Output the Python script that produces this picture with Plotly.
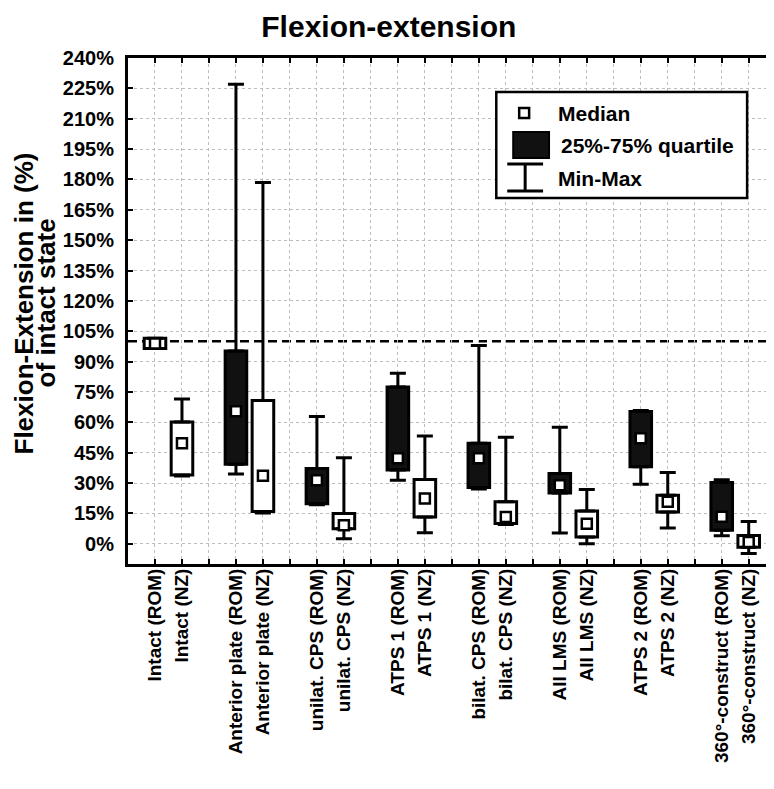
import plotly.graph_objects as go

# ---------------- data ----------------
CATEGORIES = [
    "Intact (ROM)", "Intact (NZ)",
    "Anterior plate (ROM)", "Anterior plate (NZ)",
    "unilat. CPS (ROM)", "unilat. CPS (NZ)",
    "ATPS 1 (ROM)", "ATPS 1 (NZ)",
    "bilat. CPS (ROM)", "bilat. CPS (NZ)",
    "All LMS (ROM)", "All LMS (NZ)",
    "ATPS 2 (ROM)", "ATPS 2 (NZ)",
    "360°-construct (ROM)", "360°-construct (NZ)",
]
MINIMUM = [96.5, 33.5, 34.5, 15.2, 19.3, 2.5, 31.4, 5.5, 27.0, 9.5, 5.3, 0.0, 29.4, 7.8, 3.9, -4.8]
Q1      = [96.5, 34.0, 39.3, 16.0, 19.8, 7.4, 36.4, 13.2, 27.8, 10.0, 25.1, 3.3, 38.0, 15.7, 6.7, -1.7]
MEDIAN  = [99.0, 49.6, 65.5, 33.6, 31.4, 9.1, 42.2, 22.3, 42.2, 13.2, 28.9, 9.9, 52.1, 20.7, 13.4, 0.9]
Q3      = [101.5, 60.2, 95.2, 70.8, 37.2, 14.9, 77.5, 31.8, 49.6, 20.7, 34.7, 16.2, 65.3, 24.0, 30.3, 4.1]
MAXIMUM = [101.5, 71.5, 227.0, 178.5, 62.9, 42.5, 84.2, 53.2, 97.9, 52.6, 57.6, 26.8, 65.8, 35.2, 31.6, 11.0]
FILLED  = [False, False, True, False, True, False, True, False,
           True, False, True, False, True, False, True, False]
Y_TICKS = list(range(0, 241, 15))
Y_TICK_LABELS = [f"{v}%" for v in Y_TICKS]
REFERENCE_LEVEL = 100

# ---------------- layout helpers ----------------
FONT = "Liberation Sans"
positions = [3 * (i // 2) + (i % 2) for i in range(len(CATEGORIES))]
all_ticks = list(range(0, positions[-1] + 1))
ticktext = [""] * len(all_ticks)
for p, c in zip(positions, CATEGORIES):
    ticktext[p] = c

fig = go.Figure()

# boxes (25%-75%)
fig.add_trace(go.Bar(
    x=positions,
    y=[b - a for a, b in zip(Q1, Q3)],
    base=Q1,
    width=0.8,
    marker=dict(color=["#111111" if f else "white" for f in FILLED],
                line=dict(color="black", width=3)),
    hoverinfo="skip",
))

# upper whiskers
fig.add_trace(go.Scatter(
    x=positions, y=Q3, mode="markers",
    marker=dict(size=1, color="rgba(0,0,0,0)"),
    error_y=dict(type="data", symmetric=False,
                 array=[mx - q for mx, q in zip(MAXIMUM, Q3)],
                 arrayminus=[0] * len(Q3),
                 color="black", thickness=3, width=8),
    hoverinfo="skip",
))
# lower whiskers
fig.add_trace(go.Scatter(
    x=positions, y=Q1, mode="markers",
    marker=dict(size=1, color="rgba(0,0,0,0)"),
    error_y=dict(type="data", symmetric=False,
                 array=[0] * len(Q1),
                 arrayminus=[q - mn for q, mn in zip(Q1, MINIMUM)],
                 color="black", thickness=3, width=8),
    hoverinfo="skip",
))
# medians
fig.add_trace(go.Scatter(
    x=positions, y=MEDIAN, mode="markers",
    marker=dict(symbol="square", size=10, color="white",
                line=dict(color="black", width=2.5)),
))

# reference dashed line at 100 %
fig.add_shape(type="line", xref="paper", x0=0, x1=1, yref="y",
              y0=REFERENCE_LEVEL, y1=REFERENCE_LEVEL, layer="between",
              line=dict(color="black", width=2.5, dash="9px,5px"))

axis_common = dict(
    showgrid=True, gridcolor="#bdbdbd", gridwidth=1, griddash="dot",
    showline=True, linecolor="black", linewidth=3, mirror="ticks",
    ticks="inside", ticklen=5, tickwidth=2, tickcolor="black",
    zeroline=False,
)

fig.update_layout(
    width=774, height=789,
    margin=dict(l=120, r=6, t=50, b=233),
    plot_bgcolor="white", paper_bgcolor="white",
    showlegend=False,
    title=dict(text="Flexion-extension", x=0.492, xref="container", xanchor="center",
               y=1 - 18 / 789, yref="container", yanchor="middle",
               font=dict(family=FONT, size=30, color="black", weight="bold")),
    xaxis=dict(range=[-1.0, 22.9], tickmode="array", tickvals=all_ticks,
               ticktext=ticktext, tickangle=-90, ticklabelstandoff=-6,
               tickfont=dict(family=FONT, size=19, color="black", weight="bold"),
               **axis_common),
    yaxis=dict(range=[-10, 240], tickmode="array", tickvals=Y_TICKS,
               ticktext=Y_TICK_LABELS, ticklabelstandoff=7,
               tickfont=dict(family=FONT, size=20, color="black", weight="bold"),
               **axis_common),
)

# y-axis title (two lines)
PW, PH, L, B = 648, 506, 120, 556
def px(xp):
    return (xp - L) / PW
def py(yp):
    return (B - yp) / PH

for text, xc in [("Flexion-Extension in (%)", 16), ("of intact state", 38)]:
    fig.add_annotation(text=text, xref="paper", yref="paper", x=px(xc), y=py(295),
                       textangle=-90, showarrow=False, xanchor="center", yanchor="middle",
                       font=dict(family=FONT, size=26, color="black", weight="bold"))

# legend (drawn manually)
fig.add_shape(type="rect", xref="paper", yref="paper", layer="above",
              x0=px(490), x1=px(742), y0=py(190), y1=py(84),
              fillcolor="white", line=dict(color="black", width=2.5))
fig.add_shape(type="rect", xref="paper", yref="paper", layer="above",
              x0=px(513), x1=px(523), y0=py(110), y1=py(100),
              fillcolor="white", line=dict(color="black", width=2.5))
fig.add_shape(type="rect", xref="paper", yref="paper", layer="above",
              x0=px(507), x1=px(543), y0=py(150), y1=py(124),
              fillcolor="#111111", line=dict(color="black", width=2))
for x0, x1, y0, y1 in [(501, 537, 156, 156), (519, 519, 156, 183), (501, 537, 183, 183)]:
    fig.add_shape(type="line", xref="paper", yref="paper", layer="above",
                  x0=px(x0), x1=px(x1), y0=py(y0), y1=py(y1),
                  line=dict(color="black", width=3))
for text, xl, yc in [("Median", 550, 105), ("25%-75% quartile", 553, 137), ("Min-Max", 550, 170)]:
    fig.add_annotation(text=text, xref="paper", yref="paper", x=px(xl), y=py(yc),
                       xanchor="left", yanchor="middle", showarrow=False,
                       font=dict(family=FONT, size=21, color="black", weight="bold"))

fig.write_html("out.html")
